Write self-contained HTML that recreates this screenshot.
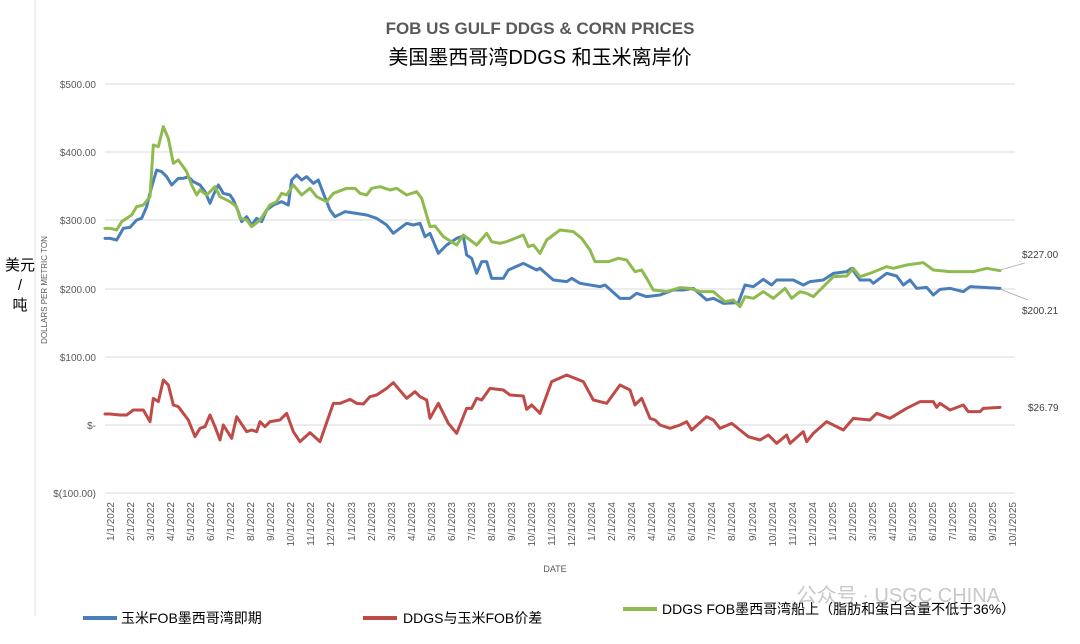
<!DOCTYPE html>
<html><head><meta charset="utf-8"><style>
body{margin:0;background:#fff;}
svg text{font-family:"Liberation Sans","Noto Sans CJK SC",sans-serif;}
</style></head><body>
<svg width="1080" height="639" viewBox="0 0 1080 639" xmlns="http://www.w3.org/2000/svg">
<rect width="1080" height="639" fill="#fff"/>
<line x1="35" y1="0" x2="35" y2="616" stroke="#e2e2e2" stroke-width="1"/>
<text x="540" y="34" text-anchor="middle" font-size="17" font-weight="bold" fill="#595959">FOB US GULF DDGS &amp; CORN PRICES</text>
<text x="540" y="64" text-anchor="middle" font-size="20" fill="#000">美国墨西哥湾DDGS 和玉米离岸价</text>
<g stroke="#d9d9d9" stroke-width="1">
<line x1="105" y1="84" x2="1015" y2="84"/><line x1="105" y1="152" x2="1015" y2="152"/>
<line x1="105" y1="220" x2="1015" y2="220"/><line x1="105" y1="289" x2="1015" y2="289"/>
<line x1="105" y1="357" x2="1015" y2="357"/><line x1="105" y1="425" x2="1015" y2="425"/>
<line x1="105" y1="493" x2="1015" y2="493"/></g>
<g font-size="10" fill="#595959" text-anchor="end">
<text x="96" y="88">$500.00</text><text x="96" y="156">$400.00</text><text x="96" y="224">$300.00</text>
<text x="96" y="293">$200.00</text><text x="96" y="361">$100.00</text><text x="96" y="429">$-</text>
<text x="96" y="497">$(100.00)</text></g>
<text transform="translate(47,290) rotate(-90)" text-anchor="middle" font-size="8" fill="#595959">DOLLARS PER METRIC TON</text>
<text x="20" y="270" text-anchor="middle" font-size="15" fill="#000">美元</text>
<text x="20" y="290" text-anchor="middle" font-size="15" fill="#000">/</text>
<text x="20" y="310" text-anchor="middle" font-size="15" fill="#000">吨</text>
<g font-size="10" fill="#595959" text-anchor="end">
<text transform="translate(114,502) rotate(-90)">1/1/2022</text>
<text transform="translate(134,502) rotate(-90)">2/1/2022</text>
<text transform="translate(154,502) rotate(-90)">3/1/2022</text>
<text transform="translate(174,502) rotate(-90)">4/1/2022</text>
<text transform="translate(194,502) rotate(-90)">5/1/2022</text>
<text transform="translate(214,502) rotate(-90)">6/1/2022</text>
<text transform="translate(234,502) rotate(-90)">7/1/2022</text>
<text transform="translate(254,502) rotate(-90)">8/1/2022</text>
<text transform="translate(274,502) rotate(-90)">9/1/2022</text>
<text transform="translate(294,502) rotate(-90)">10/1/2022</text>
<text transform="translate(314,502) rotate(-90)">11/1/2022</text>
<text transform="translate(334,502) rotate(-90)">12/1/2022</text>
<text transform="translate(355,502) rotate(-90)">1/1/2023</text>
<text transform="translate(375,502) rotate(-90)">2/1/2023</text>
<text transform="translate(395,502) rotate(-90)">3/1/2023</text>
<text transform="translate(415,502) rotate(-90)">4/1/2023</text>
<text transform="translate(435,502) rotate(-90)">5/1/2023</text>
<text transform="translate(455,502) rotate(-90)">6/1/2023</text>
<text transform="translate(475,502) rotate(-90)">7/1/2023</text>
<text transform="translate(495,502) rotate(-90)">8/1/2023</text>
<text transform="translate(515,502) rotate(-90)">9/1/2023</text>
<text transform="translate(535,502) rotate(-90)">10/1/2023</text>
<text transform="translate(555,502) rotate(-90)">11/1/2023</text>
<text transform="translate(575,502) rotate(-90)">12/1/2023</text>
<text transform="translate(595,502) rotate(-90)">1/1/2024</text>
<text transform="translate(615,502) rotate(-90)">2/1/2024</text>
<text transform="translate(635,502) rotate(-90)">3/1/2024</text>
<text transform="translate(655,502) rotate(-90)">4/1/2024</text>
<text transform="translate(675,502) rotate(-90)">5/1/2024</text>
<text transform="translate(695,502) rotate(-90)">6/1/2024</text>
<text transform="translate(715,502) rotate(-90)">7/1/2024</text>
<text transform="translate(735,502) rotate(-90)">8/1/2024</text>
<text transform="translate(756,502) rotate(-90)">9/1/2024</text>
<text transform="translate(776,502) rotate(-90)">10/1/2024</text>
<text transform="translate(796,502) rotate(-90)">11/1/2024</text>
<text transform="translate(816,502) rotate(-90)">12/1/2024</text>
<text transform="translate(836,502) rotate(-90)">1/1/2025</text>
<text transform="translate(856,502) rotate(-90)">2/1/2025</text>
<text transform="translate(876,502) rotate(-90)">3/1/2025</text>
<text transform="translate(896,502) rotate(-90)">4/1/2025</text>
<text transform="translate(916,502) rotate(-90)">5/1/2025</text>
<text transform="translate(936,502) rotate(-90)">6/1/2025</text>
<text transform="translate(956,502) rotate(-90)">7/1/2025</text>
<text transform="translate(976,502) rotate(-90)">8/1/2025</text>
<text transform="translate(996,502) rotate(-90)">9/1/2025</text>
<text transform="translate(1016,502) rotate(-90)">10/1/2025</text>
</g>
<text x="555" y="572" text-anchor="middle" font-size="9" fill="#595959">DATE</text>
<g fill="none" stroke-linejoin="round" stroke-linecap="round">
<g transform="translate(100,110) scale(0.33333)">
<polyline vector-effect="non-scaling-stroke" stroke="#4a7ebb" stroke-width="3" points="15,385 30,385 50,390 70,355 90,352 110,330 125,325 140,290 155,230 170,180 185,185 200,200 215,225 235,205 250,205 265,200 280,215 300,225 315,245 330,280 340,255 355,225 370,250 390,255 400,270 415,305 425,335 440,320 455,345 470,325 485,335 500,300 520,285 545,275 565,285 575,210 590,195 605,210 620,200 640,220 655,210 670,250 690,300 705,320 735,305 800,315 830,325 860,345 880,370 900,355 920,340 940,345 960,340 975,380 990,370 1015,430 1040,405 1070,385 1090,378 1100,435 1115,445 1130,490 1145,455 1160,455 1175,505 1210,505 1225,480 1270,460 1310,480 1320,475"/>
<polyline vector-effect="non-scaling-stroke" stroke="#8fba50" stroke-width="3" points="15,355 30,355 50,360 65,335 95,315 110,290 130,285 150,260 160,105 175,110 190,50 205,85 220,160 235,150 260,185 275,225 290,255 300,240 320,255 345,230 360,260 390,275 410,290 420,325 440,330 455,350 480,330 510,285 530,275 545,250 560,255 580,225 605,255 630,235 650,260 680,275 700,250 740,235 765,235 780,250 800,255 815,235 840,230 870,240 890,235 920,255 950,245 965,265 990,350 1005,348 1030,380 1070,405 1090,375 1130,405 1160,370 1175,395 1200,400 1220,395 1270,375 1285,410 1300,405 1320,430"/>
<polyline vector-effect="non-scaling-stroke" stroke="#be4b48" stroke-width="3" points="15,912 30,912 60,915 80,915 100,900 130,900 150,935 160,865 175,875 190,810 205,825 220,885 235,890 265,930 285,980 300,955 315,950 330,915 345,950 360,990 370,945 395,985 410,920 440,965 455,960 470,965 480,935 495,950 510,935 540,930 560,910 580,965 600,995 630,968 660,995 700,880 720,880 750,868 770,880 790,882 810,860 830,855 860,835 880,818 920,865 945,845 960,860 980,870 990,925 1015,880 1045,940 1070,970 1100,895 1115,895 1130,865 1145,870 1170,835 1210,840 1230,855 1270,858 1280,898 1295,885 1320,910"/>
</g>
<g transform="translate(540,200) scale(0.33333)">
<polyline vector-effect="non-scaling-stroke" stroke="#4a7ebb" stroke-width="3" points="0,205 40,240 80,245 95,235 120,250 180,260 195,255 240,295 270,295 290,280 320,290 360,285 400,270 430,270 460,265 500,300 520,295 550,310 595,308 615,255 640,260 670,238 695,255 710,240 760,240 790,255 810,245 850,240 880,220 920,215 935,205 960,240 990,240 1000,250 1040,220 1070,228 1090,255 1110,240 1130,265 1160,262 1180,285 1200,268 1230,265 1270,275 1290,260 1330,262 1380,265"/>
<polyline vector-effect="non-scaling-stroke" stroke="#8fba50" stroke-width="3" points="0,160 20,120 60,90 100,95 125,115 150,150 165,185 205,185 235,175 260,180 285,215 305,210 320,235 340,270 380,275 420,263 450,265 480,275 520,275 555,305 580,300 600,320 615,290 640,295 670,275 700,295 735,265 755,295 780,275 800,280 820,290 880,230 920,228 940,205 960,230 990,220 1040,200 1060,205 1100,195 1150,188 1180,210 1230,215 1270,215 1300,215 1340,205 1380,212"/>
<polyline vector-effect="non-scaling-stroke" stroke="#be4b48" stroke-width="3" points="0,640 35,545 80,525 130,545 160,600 200,610 240,555 270,570 285,615 305,595 330,655 345,660 360,675 390,685 420,675 440,665 455,690 500,650 520,660 540,685 575,670 600,690 625,710 660,720 685,705 710,730 740,705 750,730 790,695 800,725 820,700 860,665 910,690 940,655 990,660 1010,640 1050,655 1075,640 1100,625 1140,605 1180,605 1190,622 1200,610 1230,630 1270,615 1285,635 1320,635 1330,625 1380,622"/>
</g></g>
<g stroke="#a6a6a6" stroke-width="0.8"><line x1="1000" y1="270" x2="1025" y2="263"/><line x1="1000" y1="289" x2="1028" y2="300"/></g>
<g font-size="10" fill="#404040"><text x="1022" y="258">$227.00</text><text x="1022" y="314">$200.21</text><text x="1028" y="411">$26.79</text></g>
<text x="1000" y="602" text-anchor="end" font-size="20" fill="#c8c8c8">公众号 · USGC CHINA</text>
<g stroke-width="4"><line x1="83" y1="618" x2="117" y2="618" stroke="#4a7ebb"/><line x1="363" y1="618" x2="397" y2="618" stroke="#be4b48"/><line x1="623" y1="609" x2="657" y2="609" stroke="#8fba50"/></g>
<g font-size="14" fill="#000"><text x="121" y="623">玉米FOB墨西哥湾即期</text><text x="403" y="623">DDGS与玉米FOB价差</text><text x="662" y="614">DDGS FOB墨西哥湾船上（脂肪和蛋白含量不低于36%）</text></g>
</svg>
</body></html>
